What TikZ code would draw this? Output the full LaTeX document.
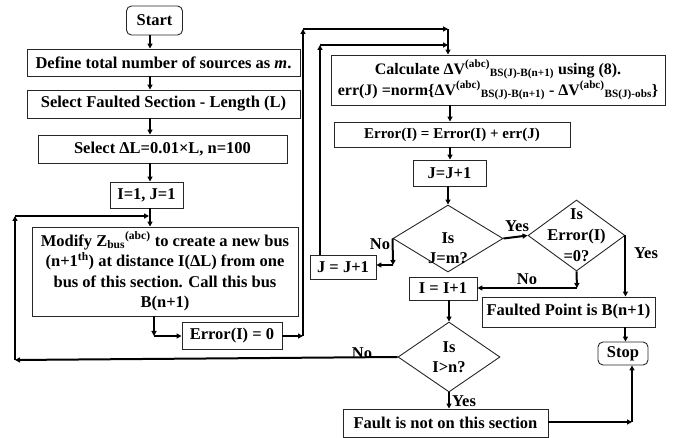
\documentclass[tikz,border=0pt]{standalone}
\usepackage{fontspec}
\setmainfont{Liberation Serif}
\usetikzlibrary{shapes.geometric,arrows.meta}
\begin{document}
\begin{tikzpicture}[x=1pt,y=-1pt,
  every node/.style={font=\fontsize{16.5}{20.5}\selectfont\bfseries},
  box/.style={draw=black!85,line width=0.9pt,inner sep=0pt,align=center},
  term/.style={box,rounded corners=5pt},
  dia/.style={draw=black!85,line width=0.9pt,diamond,inner sep=0pt},
  conn/.style={line width=2pt,-{Triangle[length=5pt,width=5pt]}},
  lbl/.style={inner sep=0pt}]
\useasboundingbox (0,0) rectangle (673,438);

% left column
\node[term,minimum width=56,minimum height=29] (start) at (154.5,20.5) {Start};
\node[box,minimum width=273,minimum height=27] (define) at (163.5,62.5) {Define total number of sources as \textit{m}.};
\node[box,minimum width=273,minimum height=28] (section) at (163.5,104) {Select Faulted Section - Length (L)};
\node[box,minimum width=249,minimum height=28] (dl) at (162.5,149) {Select ΔL=0.01×L, n=100};
\node[box,minimum width=73,minimum height=26] (init) at (146.5,195) {I=1, J=1};
\node[box,minimum width=266,minimum height=89] (modify) at (165,271.5)
  {Modify Z\textsubscript{bus}\textsuperscript{(abc)} to create a new bus\\
   (n+1\textsuperscript{th}) at distance I(ΔL) from one\\
   bus of this section. Call this bus\\ B(n+1)};
\node[box,minimum width=100,minimum height=27] (err0) at (232,335.5) {Error(I) = 0};

% right column
\node[box,minimum width=334,minimum height=50,font=\fontsize{16}{21}\selectfont\bfseries] (calc) at (498,80)
  {Calculate ΔV\textsuperscript{(abc)}\textsubscript{BS(J)-B(n+1)} using (8).\\
   err(J) =norm\{ΔV\textsuperscript{(abc)}\textsubscript{BS(J)-B(n+1)} - ΔV\textsuperscript{(abc)}\textsubscript{BS(J)-obs}\}};
\node[box,minimum width=236,minimum height=25,font=\fontsize{15}{18}\selectfont\bfseries] (errsum) at (452,134.5) {Error(I) = Error(I) + err(J)};
\node[box,minimum width=73,minimum height=26] (jinc) at (449.5,173) {J=J+1};
\node[dia,minimum width=110,minimum height=67] (djm) at (448,238.5) {};
\node[lbl,align=center] (djmtxt) at (448,248) {Is\\J=m?};
\node[box,minimum width=66,minimum height=24] (jinc2) at (343,267) {J = J+1};
\node[dia,minimum width=97,minimum height=71] (derr) at (576.5,235.5) {};
\node[lbl,align=center,font=\fontsize{16.5}{21}\selectfont\bfseries] (derrtxt) at (576.5,235.5) {Is\\Error(I)\\=0?};
\node[box,minimum width=68,minimum height=23] (ipp) at (443,288.5) {I = I+1};
\node[dia,minimum width=102,minimum height=70] (din) at (449,357) {};
\node[lbl,align=center] (dintxt) at (449,357) {Is\\I>n?};
\node[box,minimum width=173,minimum height=30] (faulted) at (568.5,312) {Faulted Point is B(n+1)};
\node[term,minimum width=50,minimum height=23] (stop) at (623,353.5) {Stop};
\node[box,minimum width=205,minimum height=28] (fault) at (445.5,423) {Fault is not on this section};

% bend points
\coordinate (ax) at (150,0);
\coordinate (cx) at (450,0);
\coordinate (m1) at (154,336);
\coordinate (r1) at (303,336);
\coordinate (r2) at (303,29);
\coordinate (r3) at (448,29);
\coordinate (j1) at (393,265);
\coordinate (j2) at (320,45);
\coordinate (j3) at (448,45);
\coordinate (e1) at (577,288);
\coordinate (n1) at (15,360);
\coordinate (n2) at (15,216);
\coordinate (n3) at (149,216);
\coordinate (f1) at (632,422);

% main chain
\draw[conn] (start.south -| ax) -- (define.north -| ax);
\draw[conn] (define.south -| ax) -- (section.north -| ax);
\draw[conn] (section.south -| ax) -- (dl.north -| ax);
\draw[conn] (dl.south -| ax) -- (init.north -| ax);
\draw[conn] (init.south -| ax) -- (modify.north -| ax);
\draw[conn] (modify.south -| m1) -- (m1);
\draw[conn] (m1) -- (err0.west |- m1);
\draw[conn] (err0.east |- r1) -- (r1);
\draw[conn] (r1) -- (r2);
\draw[conn] (r2) -- (r3);
\draw[conn] (r3) -- (calc.north -| r3);
\draw[conn] (calc.south -| cx) -- (errsum.north -| cx);
\draw[conn] (errsum.south -| cx) -- (jinc.north -| cx);
\draw[conn] (jinc.south -| djm.north) -- (djm.north);

% J=m? branches
\draw[conn] (djm.west) -- (j1);
\draw[conn] (j1) -- (jinc2.east |- j1);
\draw[conn] (jinc2.north -| j2) -- (j2);
\draw[conn] (j2) -- (j3);
\draw[conn] (djm.east) -- (derr.west);
\node[lbl] (no1) at (380,244) {No};
\node[lbl] (yes1) at (517,226) {Yes};

% Error(I)=0? branches
\draw[conn] (derr.east) -- (faulted.north -| derr.east);
\draw[conn] (derr.south) -- (e1);
\draw[conn] (e1) -- (ipp.east |- e1);
\node[lbl] (yes2) at (646,253) {Yes};
\node[lbl] (no2) at (527,279) {No};

% I>n? branches
\draw[conn] (ipp.south -| din.north) -- (din.north);
\draw[conn] (din.west) -- (n1);
\draw[conn] (n1) -- (n2);
\draw[conn] (n2) -- (n3);
\node[lbl] (no3) at (362,353) {No};
\draw[conn] (din.south) -- (fault.north -| din.south);
\node[lbl] (yes3) at (464,401) {Yes};

% to Stop
\draw[conn] (faulted.south -| derr.east) -- (stop.north -| derr.east);
\draw[conn] (fault.east |- f1) -- (f1);
\draw[conn] (f1) -- (stop.south -| f1);
\end{tikzpicture}
\end{document}
